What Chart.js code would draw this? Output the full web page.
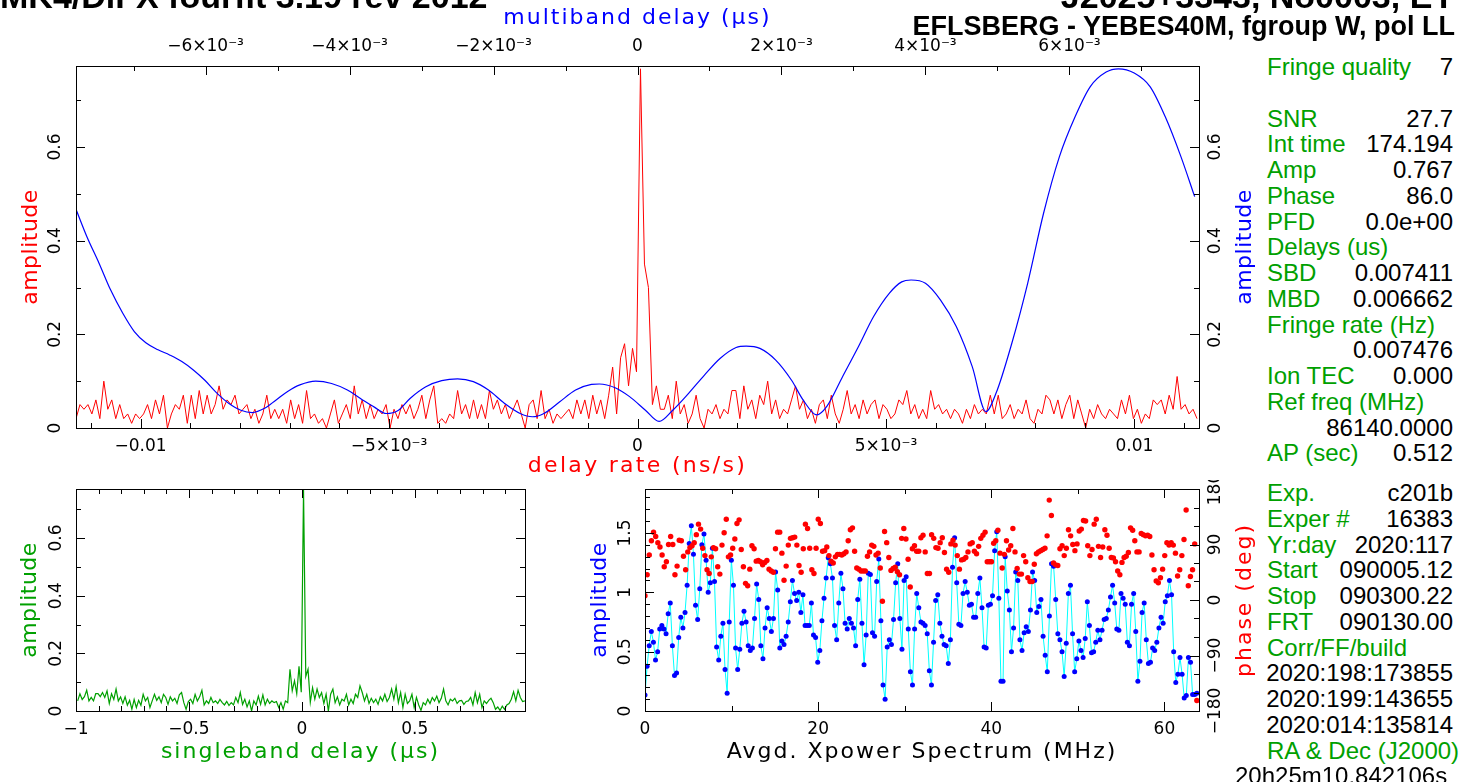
<!DOCTYPE html>
<html>
<head>
<meta charset="utf-8">
<script src="https://cdn.jsdelivr.net/npm/chart.js@4.4.1/dist/chart.umd.min.js"></script>
<style>
  body { margin: 0; width: 1474px; height: 782px; overflow: hidden; background: #fff; position: relative;
         font-family: "Liberation Sans", Arial, sans-serif; }
  canvas { position: absolute; }
  .t { position: absolute; white-space: nowrap; font-size: 24px; line-height: 28px; }
  .g { color: #00a000; }
  .k { color: #000; }
  .hd { position: absolute; white-space: nowrap; font-weight: bold; color: #000; }
</style>
</head>
<body>
<canvas id="main" width="1262" height="480" style="left:0;top:0"></canvas>
<canvas id="sbd" width="560" height="302" style="left:0;top:480px"></canvas>
<canvas id="xps" width="682" height="302" style="left:580px;top:480px"></canvas>
<div class="hd" style="left:0;top:-21px;font-size:34px;line-height:34px">MK4/DiFX fourfit  3.19 rev 2012</div>
<div class="hd" style="right:19px;top:-21px;font-size:34px;line-height:34px">J2025+3343, No0003, EY</div>
<div class="hd" style="right:19px;top:13px;font-size:27px;line-height:27px">EFLSBERG - YEBES40M, fgroup W, pol LL</div>
<div id="info"></div>
<script>
// delay rate spectrum (red, ns/s), evenly sampled
const rateStart = -0.0113, rateStep = 0.00008;
const rateAmp = [
  0.02,0.05,0.04,0.05,0.03,0.06,0.02,0.10,0.04,0.06,
  0.02,0.05,0.02,0.03,0.01,0.03,0.02,0.03,0.05,0.02,
  0.06,0.03,0.07,0.00,0.03,0.05,0.04,0.07,0.01,0.07,
  0.02,0.08,0.03,0.07,0.03,0.05,0.09,0.04,0.06,0.05,
  0.07,0.03,0.04,0.05,0.02,0.04,0.01,0.03,0.07,0.02,
  0.04,0.02,0.04,0.01,0.06,0.02,0.05,0.01,0.08,0.02,
  0.03,0.01,0.02,0.00,0.03,0.06,0.01,0.03,0.05,0.02,
  0.09,0.03,0.06,0.02,0.05,0.02,0.04,0.03,0.05,0.00,
  0.04,0.02,0.05,0.03,0.05,0.02,0.04,0.07,0.02,0.06,
  0.09,0.01,0.02,0.01,0.03,0.02,0.08,0.03,0.05,0.02,
  0.06,0.02,0.05,0.02,0.08,0.04,0.06,0.03,0.05,0.02,
  0.04,0.06,0.03,0.00,0.05,0.06,0.02,0.08,0.02,0.04,
  0.01,0.03,0.02,0.03,0.04,0.02,0.06,0.03,0.06,0.02,
  0.07,0.03,0.06,0.02,0.07,0.13,
  0.03,0.15,0.18,0.09,0.17,0.12,0.767,0.35,0.30,0.05,0.09,0.04,
  0.04,0.07,0.02,0.10,0.03,0.05,0.01,0.03,0.07,0.02,
  0.00,0.04,0.03,0.05,0.02,0.04,0.03,0.08,0.08,0.02,
  0.09,0.04,0.06,0.02,0.07,0.05,0.10,0.03,0.06,0.02,
  0.04,0.03,0.06,0.09,0.04,0.06,0.02,0.04,0.01,0.05,
  0.06,0.02,0.07,0.03,0.01,0.04,0.08,0.03,0.05,0.02,
  0.06,0.03,0.05,0.06,0.02,0.05,0.04,0.02,0.03,0.06,
  0.05,0.08,0.03,0.05,0.02,0.04,0.02,0.08,0.04,0.05,
  0.03,0.04,0.02,0.04,0.03,0.01,0.04,0.02,0.05,0.03,
  0.04,0.03,0.07,0.03,0.07,0.02,0.03,0.05,0.02,0.04,
  0.03,0.06,0.02,0.01,0.04,0.03,0.07,0.06,0.03,0.06,
  0.02,0.05,0.07,0.02,0.06,0.03,0.00,0.04,0.02,0.05,
  0.03,0.02,0.04,0.03,0.02,0.06,0.03,0.07,0.02,0.04,
  0.01,0.03,0.02,0.06,0.05,0.06,0.03,0.07,0.04,0.11,
  0.04,0.05,0.03,0.04,0.02
];

// multiband delay function (blue, us)
const mbdDelay = [
  -0.00780,-0.00765,-0.00748,-0.00732,-0.00715,-0.00699,-0.00683,-0.00666,-0.00650,-0.00633,
  -0.00617,-0.00601,-0.00584,-0.00568,-0.00551,-0.00535,-0.00518,-0.00502,-0.00486,-0.00469,
  -0.00447,-0.00425,-0.00403,-0.00382,-0.00365,-0.00349,-0.00332,-0.00316,-0.00294,-0.00272,
  -0.00250,-0.00228,-0.00207,-0.00185,-0.00163,-0.00146,-0.00130,-0.00108,-0.00086,-0.00064,
  -0.00053,-0.00031,-0.00011,0.00011,0.00030,0.00049,0.00071,0.00093,0.00115,0.00137,
  0.00151,0.00170,0.00192,0.00214,0.00230,0.00249,0.00263,0.00285,0.00307,0.00328,
  0.00350,0.00367,0.00380,0.00400,0.00421,0.00443,0.00465,0.00484,0.00498,0.00520,
  0.00542,0.00564,0.00586,0.00608,0.00629,0.00651,0.00668,0.00690,0.00712,0.00733,
  0.00755,0.00774
];
const mbdAmp = [
  0.467,0.409,0.352,0.295,0.245,0.206,0.182,0.167,0.156,0.142,
  0.124,0.102,0.074,0.053,0.038,0.033,0.042,0.060,0.078,0.092,
  0.100,0.095,0.081,0.060,0.044,0.031,0.038,0.063,0.088,0.101,
  0.105,0.099,0.081,0.053,0.031,0.024,0.031,0.056,0.081,0.093,
  0.094,0.086,0.067,0.038,0.014,0.038,0.074,0.113,0.149,0.172,
  0.175,0.170,0.145,0.102,0.060,0.028,0.046,0.110,0.174,0.238,
  0.288,0.312,0.316,0.309,0.273,0.216,0.131,0.035,0.074,0.181,
  0.309,0.458,0.579,0.665,0.729,0.760,0.767,0.758,0.729,0.665,
  0.579,0.494
];

// singleband delay (green, us), evenly sampled
const sbdStart = -0.9926, sbdStep = 0.01;
const sbdAmp = [
  0.035,0.06,0.04,0.05,0.072,0.035,0.047,0.035,0.06,0.06,
  0.05,0.064,0.047,0.07,0.026,0.06,0.04,0.076,0.035,0.049,
  0.026,0.049,0.02,0.037,0.006,0.04,0.012,0.037,0.02,0.058,
  0.035,0.047,0.012,0.035,0.058,0.037,0.049,0.029,0.058,0.047,
  0.023,0.049,0.035,0.044,0.026,0.056,0.064,0.029,0.006,0.033,
  0.041,0.026,0.058,0.035,0.049,0.072,0.021,0.035,0.026,0.047,
  0.029,0.035,0.026,0.04,0.029,0.021,0.033,0.019,0.029,0.021,
  0.047,0.029,0.064,0.023,0.041,0.014,0.035,0.0,0.035,0.021,
  0.052,0.023,0.056,0.021,0.041,0.026,0.035,0.029,0.033,0.012,
  0.029,0.006,0.035,0.029,
  0.145,0.07,0.105,0.06,0.155,0.065,0.767,0.12,0.145,0.03,
  0.081,0.041,0.076,0.047,0.064,0.026,0.058,0.0,0.058,0.076,
  0.029,0.049,0.021,0.041,0.035,0.058,0.021,0.041,0.026,0.058,
  0.047,0.087,0.064,0.035,0.058,0.026,0.044,0.029,0.041,0.023,
  0.049,0.035,0.058,0.033,0.047,0.076,0.041,0.084,0.029,0.064,
  0.012,0.058,0.026,0.035,0.058,0.012,0.047,0.021,0.002,0.029,
  0.021,0.041,0.026,0.047,0.035,0.052,0.029,0.044,0.076,0.035,
  0.021,0.041,0.035,0.044,0.026,0.035,0.037,0.023,0.033,0.035,
  0.047,0.021,0.064,0.029,0.058,0.012,0.035,0.026,0.037,0.044,
  0.029,0.006,0.014,0.002,0.017,0.006,0.021,0.026,0.041,0.067,
  0.035,0.072,0.047,0.033,0.035
];

// averaged cross-power spectrum, 0 .. 63.75 MHz
const freqSpan = 63.75;
const xpAmp = [
  0.135,0.376,0.55,0.67,0.58,0.43,0.50,0.69,0.72,0.69,
  0.65,0.82,0.91,0.55,0.30,0.32,0.62,0.79,0.70,0.83,
  1.06,1.41,1.56,1.32,0.89,0.77,1.03,1.40,1.49,1.27,
  1.00,1.08,1.37,1.09,0.54,0.43,0.63,0.74,0.35,0.15,
  0.75,1.27,1.06,0.53,0.35,0.52,0.74,0.84,0.75,0.55,
  0.51,0.53,0.78,1.07,0.94,0.55,0.44,0.70,0.87,0.78,
  0.67,0.78,1.17,1.02,0.53,0.59,0.56,0.63,0.75,0.92,
  1.10,0.99,0.93,1.00,0.83,0.98,0.72,0.72,0.72,0.91,
  0.64,0.62,0.41,0.51,0.76,0.95,
  1.12,1.29,1.24,1.12,0.72,0.60,0.91,1.16,1.03,0.74,
  0.69,0.78,0.74,0.70,0.55,0.94,1.11,0.74,0.39,0.64,
  1.16,1.15,0.66,0.63,1.09,1.28,0.76,0.22,0.10,0.54,
  0.60,0.56,0.77,1.08,1.24,0.78,0.52,1.10,1.13,0.69,
  0.33,0.22,0.69,0.99,0.87,0.75,0.74,0.72,0.65,0.34,
  0.22,0.58,0.93,0.98,0.74,0.63,0.56,0.55,0.40,0.60,
  1.21,1.46,1.08,0.73,0.72,0.99,1.09,1.00,0.89,0.90,
  0.79,0.79,0.99,1.12,0.87,0.54,0.53,0.89,0.90,0.97,
  1.35,1.51,0.95,0.25,0.25,
  1.30,1.01,0.85,0.50,0.70,1.17,1.10,0.60,0.51,0.66,
  0.71,0.67,0.85,1.17,1.10,0.83,0.88,0.94,0.63,0.47,
  0.33,0.80,1.24,1.22,0.94,0.65,0.60,0.50,0.29,0.57,
  0.99,1.06,0.65,0.33,0.44,0.59,0.51,0.45,0.61,0.92,
  0.72,0.49,0.50,0.58,0.68,0.60,0.68,0.77,0.78,0.85,
  0.96,1.06,0.91,0.69,0.68,0.99,0.95,0.90,0.58,0.55,
  0.90,0.99,0.67,0.25,0.42,0.83,0.91,0.60,0.40,0.41,
  0.53,0.51,0.58,0.70,0.79,0.74,0.92,0.97,1.10,0.98,
  0.50,0.24,0.31,0.45,0.31,0.11,0.13,0.45,0.41,0.14,
  0.14,0.15
];
const xpPhase = [
  7,41,73,96,110,103,93,86,73,54,
  62,90,103,90,41,55,97,96,71,49,
  78,85,88,93,106,123,115,84,72,49,
  43,70,85,83,54,42,89,109,131,70,
  73,84,99,124,130,82,54,27,23,50,
  88,83,63,64,62,57,61,64,50,47,
  45,83,110,110,76,32,55,89,100,101,
  102,89,56,45,83,123,116,84,49,43,
  84,131,124,79,80,86,
  72,63,60,70,74,74,73,75,78,96,
  114,117,79,52,50,47,47,47,71,78,
  89,87,73,76,52,-2,111,93,69,48,
  51,53,46,41,100,116,99,66,21,83,
  88,79,79,101,105,78,43,43,106,100,
  85,84,93,101,77,50,45,91,97,89,
  72,50,65,66,69,78,91,93,79,75,
  87,100,105,110,62,62,62,92,96,113,
  76,52,74,
  96,81,88,116,78,51,42,42,72,62,
  36,30,30,58,75,78,80,82,84,104,
  162,137,60,57,56,83,88,72,84,114,
  104,90,80,91,112,115,129,128,88,72,
  82,123,131,87,69,86,114,105,84,69,
  68,62,47,41,61,69,71,77,117,113,
  96,78,78,108,106,104,105,103,73,49,
  31,28,36,50,72,93,89,93,89,76,
  39,49,72,98,146,23,38,49,91,-163
];

// tick labels on the rotated y axes
const ampTicks = [0, 0.2, 0.4, 0.6];
const xpAmpTicks = [0, 0.5, 1, 1.5];
const phaseTicks = [-180, -90, 0, 90, 180];

// text panel on the right
const infoTop = [
  ['Fringe quality', '7'], null, ['SNR', '27.7'], ['Int time', '174.194'], ['Amp', '0.767'],
  ['Phase', '86.0'], ['PFD', '0.0e+00'], ['Delays (us)', ''], ['SBD', '0.007411'], ['MBD', '0.006662'],
  ['Fringe rate (Hz)', ''], ['', '0.007476'], ['Ion TEC', '0.000'], ['Ref freq (MHz)', ''],
  ['', '86140.0000'], ['AP (sec)', '0.512']
];
const infoBottom = [
  ['Exp.', 'c201b'], ['Exper #', '16383'], ['Yr:day', '2020:117'], ['Start', '090005.12'],
  ['Stop', '090300.22'], ['FRT', '090130.00'], ['Corr/FF/build', ''], ['', '2020:198:173855'],
  ['', '2020:199:143655'], ['', '2020:014:135814'], ['RA & Dec (J2000)', '']
];
const raText = '20h25m10.842106s';

const RED = '#ff0000', BLUE = '#0000ff', GREEN = '#00a000', CYAN = '#00ffff';
Chart.defaults.font.family = '"DejaVu Sans", sans-serif';
Chart.defaults.color = '#000';

function fmtTick(v) {
  const r = Math.round(v * 1e6) / 1e6;
  if (r === 0) return '0';
  const sign = r < 0 ? '\u2212' : '';
  const a = Math.abs(r);
  if (a >= 0.01) return sign + String(+a.toFixed(4));
  return sign + Math.round(a * 1000) + '\u00d710\u207b\u00b3';
}

function spaced(ctx, px) {
  if ('letterSpacing' in ctx) ctx.letterSpacing = px + 'px';
}

// box, inward ticks, rotated y labels and axis titles, PGPLOT style
function frame(cfg) {
  return {
    id: 'pgFrame',
    afterDraw(chart) {
      const ctx = chart.ctx, a = chart.chartArea;
      ctx.save();
      ctx.strokeStyle = '#000';
      ctx.lineWidth = 1;
      ctx.strokeRect(a.left + 0.5, a.top + 0.5, a.right - a.left, a.bottom - a.top);
      cfg.ticks.forEach(t => {
        const s = chart.scales[t.id];
        const n0 = Math.ceil(s.min / t.minor - 1e-6), n1 = Math.floor(s.max / t.minor + 1e-6);
        for (let n = n0; n <= n1; n++) {
          const len = (n % t.every === 0) ? 9 : 5;
          const p = Math.round(s.getPixelForValue(n * t.minor)) + 0.5;
          ctx.beginPath();
          if (t.edge === 'bottom') { ctx.moveTo(p, a.bottom); ctx.lineTo(p, a.bottom - len); }
          if (t.edge === 'top') { ctx.moveTo(p, a.top); ctx.lineTo(p, a.top + len); }
          if (t.edge === 'left') { ctx.moveTo(a.left, p); ctx.lineTo(a.left + len, p); }
          if (t.edge === 'right') { ctx.moveTo(a.right, p); ctx.lineTo(a.right - len, p); }
          ctx.stroke();
        }
      });
      ctx.textAlign = 'center';
      ctx.textBaseline = 'middle';
      cfg.yLabels.forEach(l => {
        const s = chart.scales[l.id];
        ctx.fillStyle = '#000';
        ctx.font = '17px "DejaVu Sans"';
        const x = l.edge === 'left' ? a.left - l.gap : a.right + l.gap;
        l.values.forEach(v => {
          ctx.save();
          ctx.translate(x, s.getPixelForValue(v));
          ctx.rotate(-Math.PI / 2);
          ctx.fillText(fmtTick(v), 0, 0);
          ctx.restore();
        });
      });
      cfg.titles.forEach(tt => {
        ctx.save();
        ctx.fillStyle = tt.color;
        ctx.font = '22px "DejaVu Sans"';
        spaced(ctx, tt.sp);
        if (tt.edge === 'left' || tt.edge === 'right') {
          ctx.translate(tt.edge === 'left' ? a.left - tt.gap : a.right + tt.gap, (a.top + a.bottom) / 2);
          ctx.rotate(-Math.PI / 2);
        } else {
          ctx.translate((a.left + a.right) / 2, tt.y);
        }
        ctx.fillText(tt.text, 0, 0);
        ctx.restore();
      });
      ctx.restore();
    }
  };
}

function xAxis(pos, min, max, step, pad, height) {
  return {
    type: 'linear', position: pos, min: min, max: max,
    grid: { display: false, drawTicks: false, tickLength: 0 }, border: { display: false },
    ticks: { stepSize: step, includeBounds: false, autoSkip: false, maxRotation: 0,
             padding: pad, font: { size: 17 }, callback: v => fmtTick(v) },
    title: { display: false },
    afterFit: s => { s.height = height; }
  };
}
function yAxis(pos, min, max, width) {
  return {
    type: 'linear', position: pos, min: min, max: max,
    grid: { display: false, drawTicks: false }, border: { display: false }, ticks: { display: false },
    afterFit: s => { s.width = width; }
  };
}
const common = {
  responsive: false, animation: false, events: [],
  plugins: { legend: { display: false }, tooltip: { enabled: false } }
};

// main plot: delay rate + multiband delay
new Chart(document.getElementById('main'), {
  type: 'line',
  data: { datasets: [
    { data: mbdDelay.map((d, i) => ({ x: d, y: mbdAmp[i] })), xAxisID: 'x2', yAxisID: 'y2',
      borderColor: BLUE, borderWidth: 1.2, pointRadius: 0, cubicInterpolationMode: 'monotone' },
    { data: rateAmp.map((v, i) => ({ x: rateStart + i * rateStep, y: v })), xAxisID: 'x', yAxisID: 'y',
      borderColor: RED, borderWidth: 1, pointRadius: 0, tension: 0 }
  ]},
  options: Object.assign({}, common, {
    layout: { padding: 0 },
    scales: {
      x: xAxis('bottom', -0.0113, 0.0113, 0.005, 8, 52),
      x2: xAxis('top', -0.0078, 0.0078, 0.002, 9, 66),
      y: yAxis('left', 0, 0.773, 76),
      y2: yAxis('right', 0, 0.773, 63)
    }
  }),
  plugins: [frame({
    ticks: [{ id: 'x', edge: 'bottom', minor: 0.001, every: 5 }, { id: 'x2', edge: 'top', minor: 0.001, every: 2 },
            { id: 'y', edge: 'left', minor: 0.1, every: 2 }, { id: 'y2', edge: 'right', minor: 0.1, every: 2 }],
    yLabels: [{ id: 'y', edge: 'left', gap: 20, values: ampTicks }, { id: 'y2', edge: 'right', gap: 17, values: ampTicks }],
    titles: [{ edge: 'left', gap: 45, text: 'amplitude', color: RED, sp: 0.5 },
             { edge: 'right', gap: 46, text: 'amplitude', color: BLUE, sp: 0.5 },
             { edge: 'bottom', y: 466, text: 'delay rate (ns/s)', color: RED, sp: 2.3 },
             { edge: 'top', y: 18, text: 'multiband delay (\u00b5s)', color: BLUE, sp: 2 }]
  })]
});

// singleband delay
new Chart(document.getElementById('sbd'), {
  type: 'line',
  data: { datasets: [
    { data: sbdAmp.map((v, i) => ({ x: sbdStart + i * sbdStep, y: v })),
      borderColor: GREEN, borderWidth: 1.2, pointRadius: 0, tension: 0 }
  ]},
  options: Object.assign({}, common, {
    layout: { padding: { top: 9, right: 35, left: 0, bottom: 0 } },
    scales: {
      x: xAxis('bottom', -1, 0.988, 0.5, 8, 71),
      y: yAxis('left', 0, 0.77, 76)
    }
  }),
  plugins: [frame({
    ticks: [{ id: 'x', edge: 'bottom', minor: 0.1, every: 5 }, { id: 'x', edge: 'top', minor: 0.1, every: 5 },
            { id: 'y', edge: 'left', minor: 0.1, every: 2 }, { id: 'y', edge: 'right', minor: 0.1, every: 2 }],
    yLabels: [{ id: 'y', edge: 'left', gap: 19, values: ampTicks }],
    titles: [{ edge: 'left', gap: 46, text: 'amplitude', color: GREEN, sp: 0.5 },
             { edge: 'bottom', y: 272, text: 'singleband delay (\u00b5s)', color: GREEN, sp: 2 }]
  })]
});

// cross-power spectrum: amplitude and phase
new Chart(document.getElementById('xps'), {
  type: 'line',
  data: { datasets: [
    { data: xpPhase.map((v, i) => ({ x: i * freqSpan / (xpPhase.length - 1), y: v })), yAxisID: 'y2',
      showLine: false, pointRadius: 2.7, pointBorderWidth: 0, pointBackgroundColor: RED, borderColor: RED },
    { data: xpAmp.map((v, i) => ({ x: i * freqSpan / (xpAmp.length - 1), y: v })), yAxisID: 'y',
      borderColor: CYAN, borderWidth: 1, tension: 0,
      pointRadius: 2.5, pointBorderWidth: 0, pointBackgroundColor: BLUE }
  ]},
  options: Object.assign({}, common, {
    layout: { padding: { top: 9, right: 0, left: 0, bottom: 0 } },
    scales: {
      x: xAxis('bottom', 0, 64, 20, 8, 71),
      y: yAxis('left', 0, 1.87, 65),
      y2: yAxis('right', -180, 180, 63)
    }
  }),
  plugins: [frame({
    ticks: [{ id: 'x', edge: 'bottom', minor: 10, every: 2 }, { id: 'x', edge: 'top', minor: 10, every: 2 },
            { id: 'y', edge: 'left', minor: 0.1, every: 5 }, { id: 'y2', edge: 'right', minor: 30, every: 3 }],
    yLabels: [{ id: 'y', edge: 'left', gap: 19, values: xpAmpTicks }, { id: 'y2', edge: 'right', gap: 17, values: phaseTicks }],
    titles: [{ edge: 'left', gap: 45, text: 'amplitude', color: BLUE, sp: 0.5 },
             { edge: 'right', gap: 46, text: 'phase (deg)', color: RED, sp: 2 },
             { edge: 'bottom', y: 272, text: 'Avgd. Xpower Spectrum (MHz)', color: '#000', sp: 2 }]
  })]
});

// text panel
const info = document.getElementById('info');
function addRow(row, y) {
  if (!row) return;
  if (row[0]) {
    const d = document.createElement('div');
    d.className = 't g';
    d.style.left = '1267px';
    d.style.top = (y - 14) + 'px';
    d.textContent = row[0];
    info.appendChild(d);
  }
  if (row[1]) {
    const d = document.createElement('div');
    d.className = 't k';
    d.style.right = '21px';
    d.style.top = (y - 14) + 'px';
    d.textContent = row[1];
    info.appendChild(d);
  }
}
infoTop.forEach((r, i) => addRow(r, 67 + i * 25.75));
infoBottom.forEach((r, i) => addRow(r, 493 + i * 25.75));
const ra = document.createElement('div');
ra.className = 't k';
ra.style.left = '1235px';
ra.style.top = (493 + 11 * 25.75 - 14) + 'px';
ra.textContent = raText;
info.appendChild(ra);
</script>
</body>
</html>
